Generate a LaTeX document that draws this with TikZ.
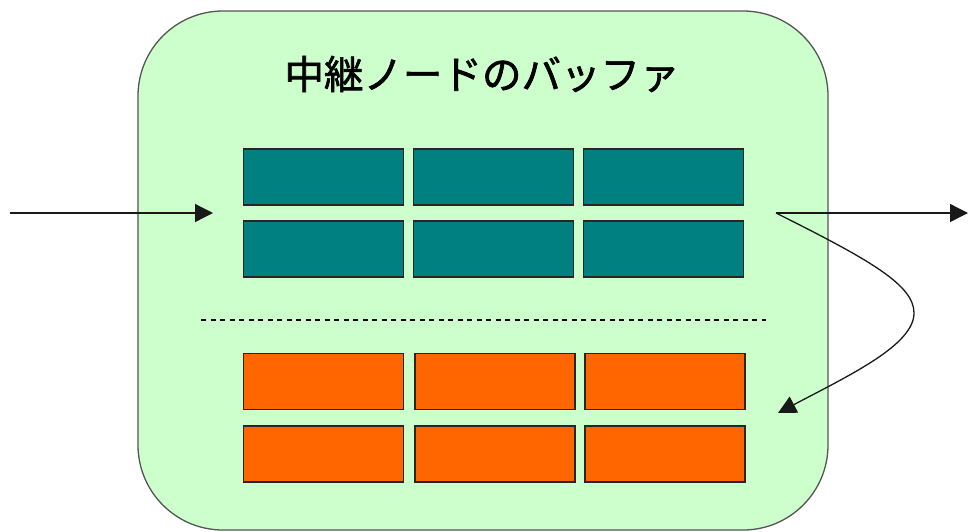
\documentclass[tikz,border=0pt]{standalone}
\usepackage{fontspec}
\newfontfamily\cjk[FakeBold=1.6]{Noto Sans CJK JP}
\usetikzlibrary{arrows.meta}
\definecolor{bufgreen}{HTML}{CCFFCC}
\definecolor{bufedge}{HTML}{555555}
\definecolor{tealfill}{HTML}{008080}
\definecolor{orangefill}{HTML}{FF6600}
\tikzset{
  cell/.style={draw=black!85, line width=1.4pt, minimum width=160pt, minimum height=56pt, inner sep=0pt, outer sep=0pt},
  tealcell/.style={cell, fill=tealfill},
  orangecell/.style={cell, fill=orangefill},
  flow/.style={line width=1.3pt, draw=black!90, -{Triangle[length=18pt,width=18pt]}},
}
\begin{document}
\begin{tikzpicture}[x=1pt,y=-1pt]
\useasboundingbox (0,0) rectangle (968,531);
\node[draw=bufedge, line width=1.3pt, fill=bufgreen, rounded corners=85pt,
      minimum width=690pt, minimum height=519pt, inner sep=0pt] (buf) at (483,270.5) {};
\node (title) at (482,74) {\cjk\fontsize{39.5}{44}\selectfont 中継ノードのバッファ};
% teal cells
\node[tealcell] (t11) at (323.5,177) {};
\node[tealcell] (t12) at (493.5,177) {};
\node[tealcell] (t13) at (663.5,177) {};
\node[tealcell] (t21) at (323.5,249) {};
\node[tealcell] (t22) at (493.5,249) {};
\node[tealcell] (t23) at (663.5,249) {};
% orange cells
\node[orangecell] (o11) at (323.5,381.5) {};
\node[orangecell] (o12) at (495,381.5) {};
\node[orangecell] (o13) at (665,381.5) {};
\node[orangecell] (o21) at (323.5,454) {};
\node[orangecell] (o22) at (495,454) {};
\node[orangecell] (o23) at (665,454) {};
% dashed divider
\coordinate (dL) at (201,320);
\coordinate (dR) at (766,320);
\draw[line width=1.3pt, dash pattern=on 5pt off 4.5pt] (dL) -- (dR);
% arrows
\coordinate (inS) at (10,213);
\coordinate (inE) at (213,213);
\coordinate (outS) at (776,213);
\coordinate (outE) at (968,213);
\coordinate (apex) at (914,313);
\coordinate (back) at (778,413);
\draw[flow] (inS) -- (inE);
\draw[flow] (outS) -- (outE);
\draw[flow] (outS) .. controls (870,260) and (914,285) .. (apex)
  .. controls (914,345) and (850,375) .. (back);
\end{tikzpicture}
\end{document}
